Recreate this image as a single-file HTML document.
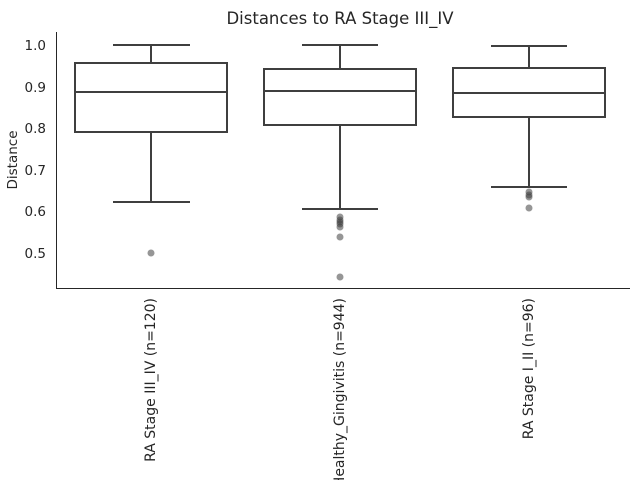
<!DOCTYPE html>
<html><head><style>body{margin:0;background:#fff}</style></head><body>
<svg width="640" height="480" xmlns="http://www.w3.org/2000/svg" font-family="DejaVu Sans, Liberation Sans, sans-serif" fill="#262626">
<rect width="640" height="480" fill="#fff"/>
<text x="340" y="24" font-size="16.5" text-anchor="middle">Distances to RA Stage III_IV</text>
<g stroke="#262626" stroke-width="1"><line x1="56.5" y1="32" x2="56.5" y2="288"/><line x1="56" y1="288.5" x2="630" y2="288.5"/></g>
<g font-size="13.5" text-anchor="end">
<text x="46" y="50">1.0</text><text x="46" y="92">0.9</text><text x="46" y="133">0.8</text>
<text x="46" y="175">0.7</text><text x="46" y="216">0.6</text><text x="46" y="258">0.5</text></g>
<text transform="translate(17,160) rotate(-90)" font-size="13.5" text-anchor="middle">Distance</text>
<g stroke="#3f3f3f" stroke-width="2" fill="none">
<rect x="75" y="63" width="152" height="69"/><line x1="75" y1="92" x2="227" y2="92"/>
<line x1="151" y1="45" x2="151" y2="63"/><line x1="151" y1="132" x2="151" y2="202"/>
<line x1="113" y1="45" x2="190" y2="45"/><line x1="113" y1="202" x2="190" y2="202"/>
<rect x="264" y="69" width="152" height="56"/><line x1="264" y1="91" x2="416" y2="91"/>
<line x1="340" y1="45" x2="340" y2="69"/><line x1="340" y1="125" x2="340" y2="209"/>
<line x1="302" y1="45" x2="378" y2="45"/><line x1="302" y1="209" x2="378" y2="209"/>
<rect x="453" y="68" width="152" height="49"/><line x1="453" y1="93" x2="605" y2="93"/>
<line x1="529" y1="46" x2="529" y2="68"/><line x1="529" y1="117" x2="529" y2="187"/>
<line x1="491" y1="46" x2="567" y2="46"/><line x1="491" y1="187" x2="567" y2="187"/>
</g>
<g fill="#3f3f3f" fill-opacity="0.55">
<circle cx="151" cy="253" r="3.5"/>
<circle cx="340" cy="217" r="3.5"/><circle cx="340" cy="220" r="3.5"/><circle cx="340" cy="222" r="3.5"/><circle cx="340" cy="224" r="3.5"/><circle cx="340" cy="227" r="3.5"/>
<circle cx="340" cy="237" r="3.5"/><circle cx="340" cy="277" r="3.5"/>
<circle cx="529" cy="192" r="3.5"/><circle cx="529" cy="195" r="3.5"/><circle cx="529" cy="197" r="3.5"/><circle cx="529" cy="208" r="3.5"/>
</g>
<g font-size="14" text-anchor="end">
<text transform="translate(155,298) rotate(-90)">RA Stage III_IV (n=120)</text>
<text transform="translate(344,298) rotate(-90)">Healthy_Gingivitis (n=944)</text>
<text transform="translate(533,298) rotate(-90)">RA Stage I_II (n=96)</text>
</g>
</svg>
</body></html>
